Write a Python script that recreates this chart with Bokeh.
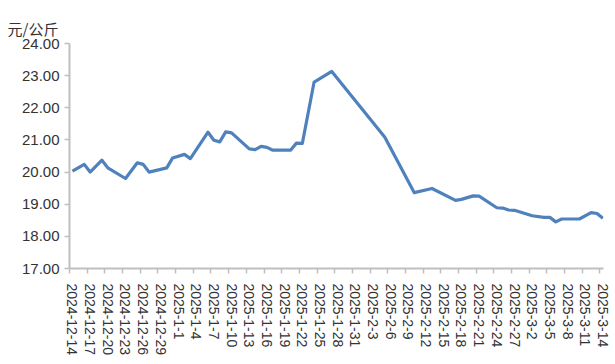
import pandas as pd
from bokeh.plotting import figure
from bokeh.models import FixedTicker, Range1d, NumeralTickFormatter
from bokeh.embed import file_html
from bokeh.resources import INLINE

dates = ["2024-12-14", "2024-12-16", "2024-12-17", "2024-12-19", "2024-12-20",
         "2024-12-23", "2024-12-25", "2024-12-26", "2024-12-27", "2024-12-30",
         "2024-12-31", "2025-1-2", "2025-1-3", "2025-1-6", "2025-1-7",
         "2025-1-8", "2025-1-9", "2025-1-10", "2025-1-13", "2025-1-14",
         "2025-1-15", "2025-1-16", "2025-1-17", "2025-1-20", "2025-1-21",
         "2025-1-22", "2025-1-24", "2025-1-27", "2025-2-5", "2025-2-10",
         "2025-2-13", "2025-2-17", "2025-2-18", "2025-2-20", "2025-2-21",
         "2025-2-24", "2025-2-25", "2025-2-26", "2025-2-27", "2025-3-2",
         "2025-3-4", "2025-3-5", "2025-3-6", "2025-3-7", "2025-3-10",
         "2025-3-12", "2025-3-13", "2025-3-14"]
prices = [20.03, 20.24, 20.00, 20.37, 20.13,
          19.80, 20.29, 20.24, 20.00, 20.13,
          20.44, 20.55, 20.42, 21.24, 20.99,
          20.94, 21.25, 21.22, 20.72, 20.70,
          20.80, 20.77, 20.68, 20.68, 20.90,
          20.89, 22.80, 23.13, 21.08, 19.36,
          19.49, 19.12, 19.15, 19.26, 19.25,
          18.89, 18.88, 18.82, 18.81, 18.64,
          18.59, 18.59, 18.45, 18.54, 18.54,
          18.74, 18.71, 18.56]

tick_labels = ["2024-12-14", "2024-12-17", "2024-12-20", "2024-12-23", "2024-12-26",
               "2024-12-29", "2025-1-1", "2025-1-4", "2025-1-7", "2025-1-10",
               "2025-1-13", "2025-1-16", "2025-1-19", "2025-1-22", "2025-1-25",
               "2025-1-28", "2025-1-31", "2025-2-3", "2025-2-6", "2025-2-9",
               "2025-2-12", "2025-2-15", "2025-2-18", "2025-2-21", "2025-2-24",
               "2025-2-27", "2025-3-2", "2025-3-5", "2025-3-8", "2025-3-11",
               "2025-3-14"]
y_ticks = [17, 18, 19, 20, 21, 22, 23, 24]

start = pd.Timestamp("2024-12-14")


def day_index(s):
    return (pd.Timestamp(s) - start).days


xs = [day_index(d) + 0.5 for d in dates]
tick_days = [day_index(t) for t in tick_labels]
label_pos = [d + 0.5 for d in tick_days]

p = figure(width=615, height=364, output_backend="svg", toolbar_location=None,
           x_range=Range1d(0, 90.6), y_range=Range1d(17, 24),
           min_border_left=69, min_border_right=12, min_border_top=43,
           min_border_bottom=96)
p.outline_line_color = None
p.grid.visible = False
p.background_fill_color = "white"

p.line(xs, prices, line_color="#4F81BD", line_width=3.2, line_join="round")

axis_col = "#BFBFBF"
text_col = "#333333"
font = "Liberation Sans"

xa = p.xaxis[0]
xa.ticker = FixedTicker(ticks=label_pos, minor_ticks=tick_days)
xa.major_label_overrides = {pos: lab for pos, lab in zip(label_pos, tick_labels)}
xa.major_label_orientation = "vertical"
xa.major_tick_line_color = None
xa.major_tick_out = 0
xa.major_tick_in = 0
xa.minor_tick_line_color = axis_col
xa.minor_tick_line_width = 1.5
xa.minor_tick_out = 5
xa.minor_tick_in = 0
xa.axis_line_color = axis_col
xa.axis_line_width = 2
xa.major_label_standoff = 10
xa.major_label_text_font = font
xa.major_label_text_font_size = "14px"
xa.major_label_text_color = text_col

ya = p.yaxis[0]
ya.ticker = FixedTicker(ticks=y_ticks, minor_ticks=[])
ya.formatter = NumeralTickFormatter(format="0.00")
ya.major_tick_line_color = axis_col
ya.major_tick_line_width = 1.5
ya.major_tick_out = 5
ya.major_tick_in = 0
ya.minor_tick_line_color = None
ya.axis_line_color = axis_col
ya.axis_line_width = 2
ya.major_label_standoff = 5
ya.major_label_text_font = font
ya.major_label_text_font_size = "15px"
ya.major_label_text_color = text_col

p.title.text = "元/公斤"
p.title.text_font = "Noto Sans CJK SC"
p.title.text_font_size = "15px"
p.title.text_font_style = "normal"
p.title.text_color = text_col
p.title.align = "left"
p.title.offset = -62

open("out.html", "w").write(file_html(p, INLINE))
